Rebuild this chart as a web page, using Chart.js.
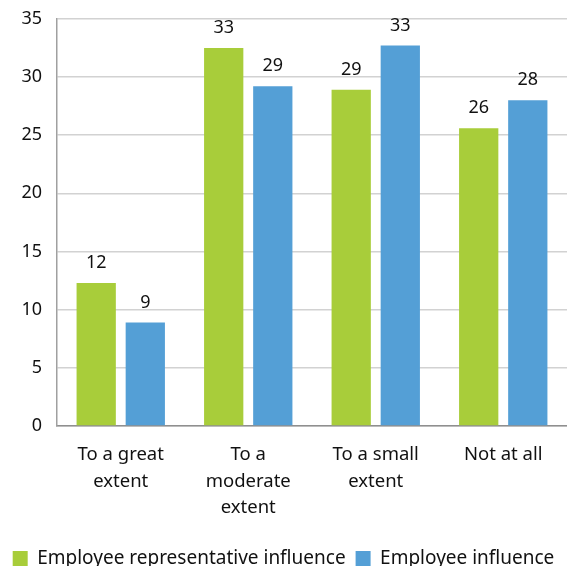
<!DOCTYPE html>
<html>
<head>
<meta charset="utf-8">
<script src="https://cdn.jsdelivr.net/npm/chart.js@4/dist/chart.umd.min.js"></script>
<style>
  html, body { margin: 0; padding: 0; background: #fff; overflow: hidden; }
  #wrap { width: 567px; height: 578px; }
</style>
</head>
<body>
<div id="wrap"><canvas id="chart" width="567" height="578"></canvas></div>
<script>
const categories = [
  ["To a great", "extent"],
  ["To a", "moderate", "extent"],
  ["To a small", "extent"],
  ["Not at all"]
];
const repInfluence = [12.3, 32.5, 28.9, 25.6];
const empInfluence = [8.9, 29.2, 32.7, 28.0];
const yTicks = { min: 0, max: 35, step: 5 };

const FONT = "'Noto Sans', sans-serif";
const GREEN = "#a8cd3a";
const BLUE = "#549fd6";

// prints the rounded value above each bar
const valueLabels = {
  id: "valueLabels",
  afterDatasetsDraw(chart) {
    const ctx = chart.ctx;
    ctx.save();
    ctx.font = "18px " + FONT;
    ctx.fillStyle = "#111";
    ctx.textAlign = "center";
    ctx.textBaseline = "middle";
    chart.data.datasets.forEach((ds, i) => {
      chart.getDatasetMeta(i).data.forEach((bar, j) => {
        ctx.fillText(String(Math.round(ds.data[j])), bar.x, bar.y - 20);
      });
    });
    ctx.restore();
  }
};

new Chart(document.getElementById("chart"), {
  type: "bar",
  data: {
    labels: categories,
    datasets: [
      { label: "Employee representative influence", data: repInfluence, backgroundColor: GREEN },
      { label: "Employee influence", data: empInfluence, backgroundColor: BLUE }
    ]
  },
  options: {
    responsive: false,
    animation: false,
    categoryPercentage: 0.77,
    barPercentage: 0.8,
    layout: { padding: 0 },
    plugins: {
      tooltip: { enabled: false },
      legend: {
        position: "bottom",
        labels: {
          boxWidth: 15,
          boxHeight: 15,
          padding: 10,
          color: "#111",
          font: { family: FONT, size: 19 }
        }
      }
    },
    scales: {
      x: {
        grid: { display: false },
        border: { display: true, color: "#8f8f8f", width: 1.5 },
        ticks: {
          color: "#111",
          padding: 8,
          maxRotation: 0,
          autoSkip: false,
          font: { family: FONT, size: 18.5, lineHeight: 1.42 }
        },
        afterFit(scale) { scale.height = 113; }
      },
      y: {
        min: yTicks.min,
        max: yTicks.max,
        // invisible tick marks keep the labels clear of the axis line
        grid: { color: "#d2d2d2", lineWidth: 1.5, tickLength: 7, tickColor: "rgba(0,0,0,0)" },
        border: { display: true, color: "#a0a0a0", width: 1.5 },
        ticks: {
          stepSize: yTicks.step,
          color: "#111",
          padding: 8,
          font: { family: FONT, size: 18 }
        },
        afterFit(scale) { scale.width = 57; }
      }
    }
  },
  plugins: [valueLabels]
});
</script>
</body>
</html>
